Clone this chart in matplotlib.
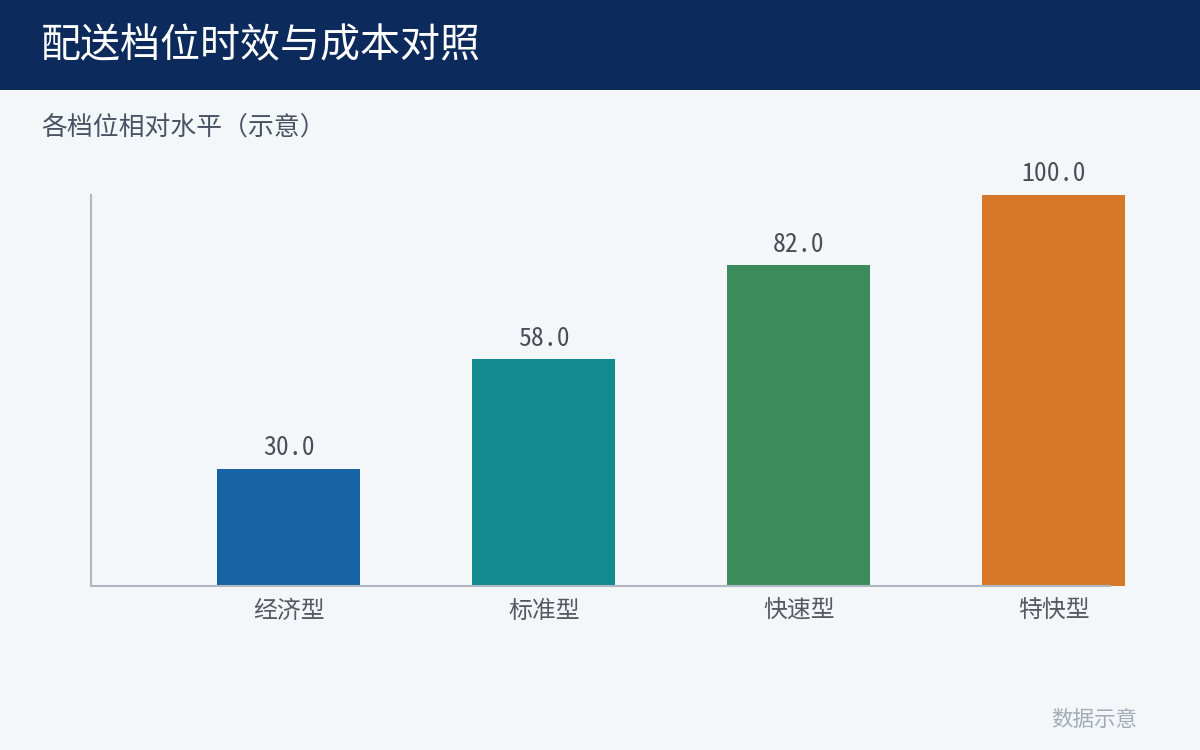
import matplotlib
matplotlib.use("Agg")
import matplotlib.pyplot as plt
from matplotlib.patches import Rectangle

plt.rcParams['font.family'] = ['Noto Sans CJK SC', 'DejaVu Sans']

categories = ["经济型", "标准型", "快速型", "特快型"]
values = [30.0, 58.0, 82.0, 100.0]
colors = ["#1764a4", "#138a8e", "#3b8c5a", "#d67828"]
title = "配送档位时效与成本对照"
subtitle = "各档位相对水平（示意）"
footer = "数据示意"

W, H = 1200, 750
fig = plt.figure(figsize=(W / 100, H / 100), dpi=100)
fig.patch.set_facecolor("#f3f7fa")

# Header band
fig.patches.append(Rectangle((0, 1 - 90 / H), 1, 90 / H, transform=fig.transFigure,
                             facecolor="#0d2a5c", edgecolor="none", zorder=0))
fig.text(41 / W, 1 - 46 / H, title, color="white", fontsize=28.8, va="center", ha="left")
fig.text(41 / W, 1 - 127 / H, subtitle, color="#4a5363", fontsize=18.6, va="center", ha="left")
fig.text(1137 / W, 1 - 720 / H, footer, color="#a3abb6", fontsize=15.5, va="center", ha="right")

left, right, top, bottom = 91, 1110, 195, 586
ax = fig.add_axes([left / W, 1 - bottom / H, (right - left) / W, (bottom - top) / H])
ax.set_facecolor("none")
x = list(range(len(categories)))
bars = ax.bar(x, values, width=0.56, color=colors, clip_on=False, zorder=2)
ax.set_xlim(-0.775, 3.22)
ax.set_ylim(0, 100)
for b, v in zip(bars, values):
    ax.annotate(f"{v:.1f}", (b.get_x() + b.get_width() / 2, v), xytext=(0, 14.8),
                textcoords="offset points", ha="center", va="center",
                fontsize=18.5, color="#4a4f57",
                family=['Noto Sans Mono CJK SC', 'DejaVu Sans Mono'], clip_on=False)
ax.set_xticks(x)
ax.set_xticklabels(categories, fontsize=17.2, color="#555a62")
ax.tick_params(axis="x", length=0, pad=10)
ax.set_yticks([])
for s in ["top", "right"]:
    ax.spines[s].set_visible(False)
for s in ["left", "bottom"]:
    ax.spines[s].set_color("#b0b8c4")
    ax.spines[s].set_linewidth(1.5)
    ax.spines[s].set_zorder(3)

fig.savefig("out.png", dpi=100, facecolor=fig.get_facecolor())
